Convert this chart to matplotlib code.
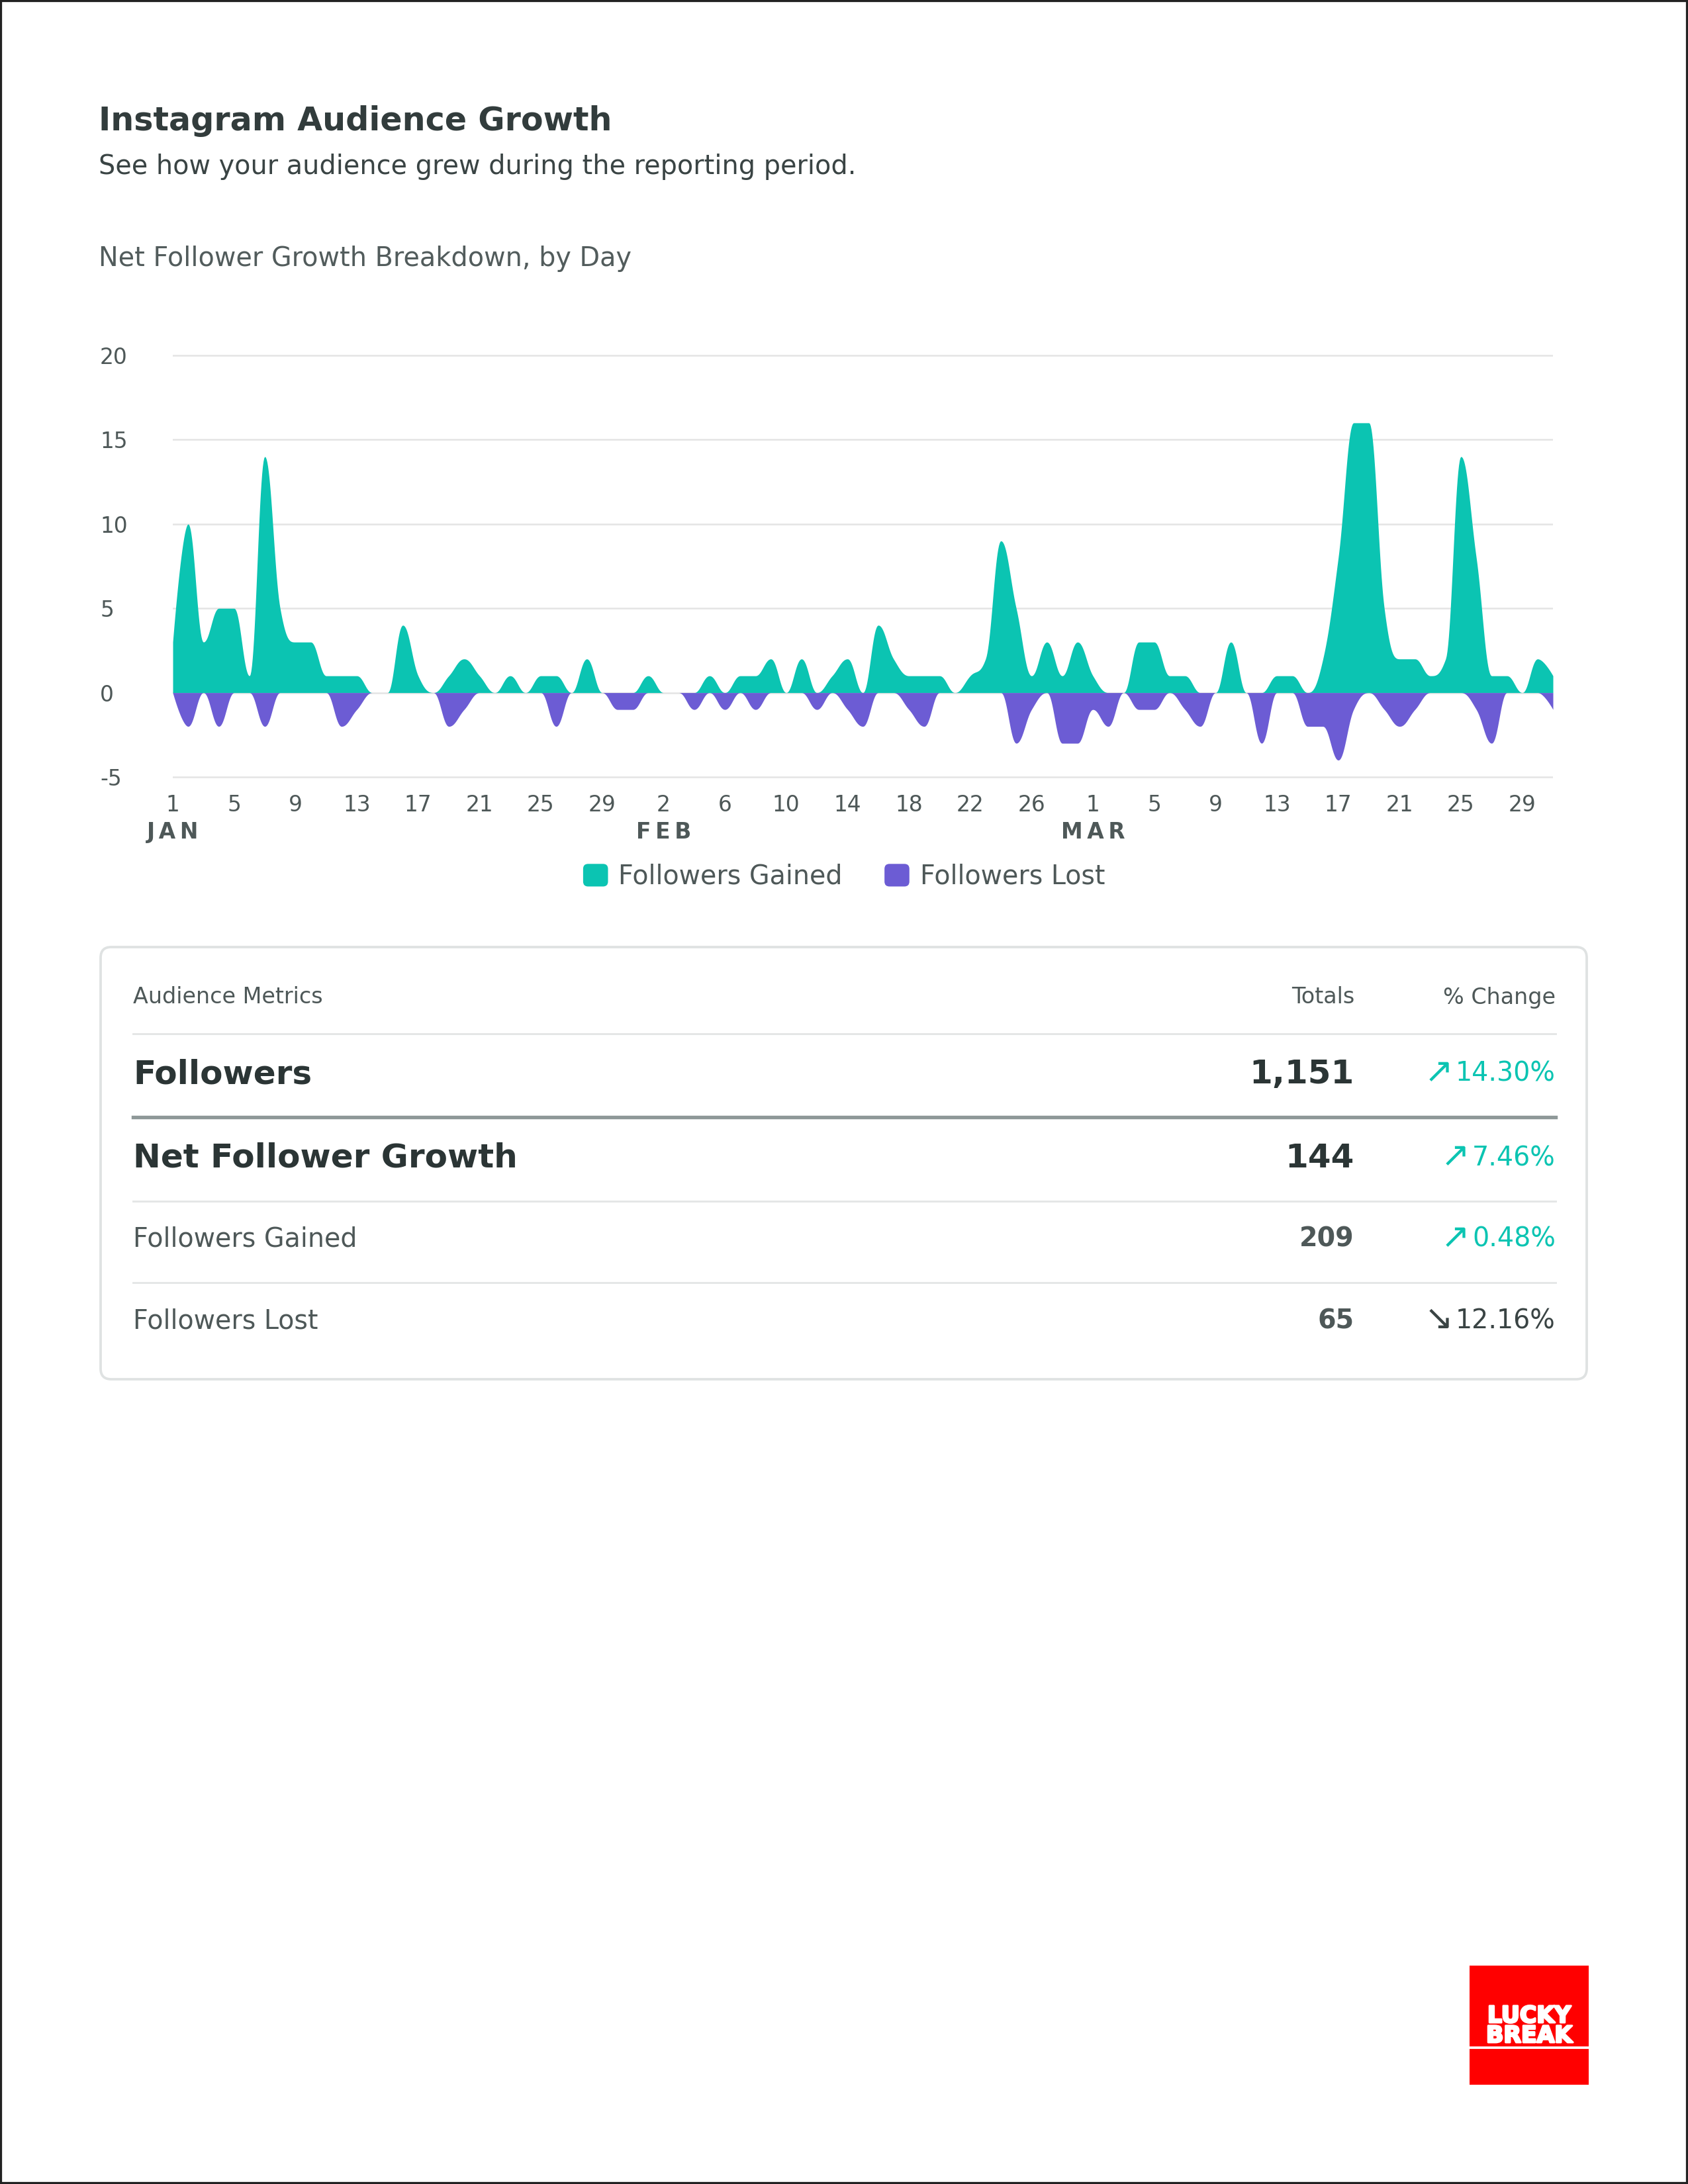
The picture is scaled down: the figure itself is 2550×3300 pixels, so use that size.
import numpy as np
import pandas as pd
import matplotlib
matplotlib.use('Agg')
from matplotlib import pyplot as plt
from matplotlib import patheffects
from matplotlib.patches import FancyBboxPatch, Rectangle, Patch
from matplotlib.legend_handler import HandlerPatch

plt.rcParams['font.family'] = ['DejaVu Sans']
plt.rcParams['axes.unicode_minus'] = False

# ---- data ----
dates = pd.date_range('2024-01-01', '2024-03-31', freq='D')

gained_jan = [3, 10, 3, 5, 5, 1, 14, 5, 3, 3, 1, 1, 1, 0, 0, 4, 1, 0, 1, 2,
              1, 0, 1, 0, 1, 1, 0, 2, 0, 0, 0]
gained_feb = [1, 0, 0, 0, 1, 0, 1, 1, 2, 0, 2, 0, 1, 2, 0, 4, 2, 1, 1, 1,
              0, 1, 2, 9, 5, 1, 3, 1, 3]
gained_mar = [1, 0, 0, 3, 3, 1, 1, 0, 0, 3, 0, 0, 1, 1, 0, 2, 8, 16, 16, 5,
              2, 2, 1, 2, 14, 8, 1, 1, 0, 2, 1]

lost_jan = [0, -2, 0, -2, 0, 0, -2, 0, 0, 0, 0, -2, -1, 0, 0, 0, 0, 0, -2, -1,
            0, 0, 0, 0, 0, -2, 0, 0, 0, -1, -1]
lost_feb = [0, 0, 0, -1, 0, -1, 0, -1, 0, 0, 0, -1, 0, -1, -2, 0, 0, -1, -2, 0,
            0, 0, 0, 0, -3, -1, 0, -3, -3]
lost_mar = [-1, -2, 0, -1, -1, 0, -1, -2, 0, 0, 0, -3, 0, 0, -2, -2, -4, -1, 0, -1,
            -2, -1, 0, 0, 0, -1, -3, 0, 0, 0, -1]

gained = gained_jan + gained_feb + gained_mar
lost = lost_jan + lost_feb + lost_mar

y_ticks = [-5, 0, 5, 10, 15, 20]
tick_every = 4
series_names = ['Followers Gained', 'Followers Lost']

metric_names = ['Followers', 'Net Follower Growth', 'Followers Gained', 'Followers Lost']
metric_totals = ['1,151', '144', '209', '65']
metric_changes = ['14.30%', '7.46%', '0.48%', '12.16%']
metric_up = [True, True, True, False]

TEAL = '#0bc4b2'
PURPLE = '#6c5cd4'
DARK = '#2b3535'
MID = '#4e5858'


def spline(xv, yv, smoothing=1.5, steps=24):
    # highcharts style spline: bezier with control points kept inside the segment
    xv = np.asarray(xv, float)
    yv = np.asarray(yv, float)
    n = len(xv)
    lc = np.column_stack([xv, yv]).copy()
    rc = lc.copy()
    den = smoothing + 1
    for i in range(1, n - 1):
        x, y = xv[i], yv[i]
        px, py, nx, ny = xv[i - 1], yv[i - 1], xv[i + 1], yv[i + 1]
        lx, ly = (smoothing * x + px) / den, (smoothing * y + py) / den
        rx, ry = (smoothing * x + nx) / den, (smoothing * y + ny) / den
        corr = (ry - ly) * (rx - x) / (rx - lx) + y - ry
        ly += corr
        ry += corr
        if ly > py and ly > y:
            ly = max(py, y); ry = 2 * y - ly
        elif ly < py and ly < y:
            ly = min(py, y); ry = 2 * y - ly
        if ry > ny and ry > y:
            ry = max(ny, y); ly = 2 * y - ry
        elif ry < ny and ry < y:
            ry = min(ny, y); ly = 2 * y - ry
        lc[i] = (lx, ly)
        rc[i] = (rx, ry)
    t = np.linspace(0, 1, steps)[:, None]
    pts = []
    for i in range(1, n):
        p0 = np.array([xv[i - 1], yv[i - 1]])
        p3 = np.array([xv[i], yv[i]])
        p1, p2 = rc[i - 1], lc[i]
        seg = ((1 - t) ** 3) * p0 + 3 * ((1 - t) ** 2) * t * p1 + 3 * (1 - t) * t ** 2 * p2 + t ** 3 * p3
        pts.append(seg if i == 1 else seg[1:])
    pts = np.vstack(pts)
    return pts[:, 0], pts[:, 1]


class RoundHandler(HandlerPatch):
    def create_artists(self, legend, orig_handle, xdescent, ydescent, width, height, fontsize, trans):
        p = FancyBboxPatch((-xdescent, -ydescent), width, height,
                           boxstyle='round,pad=0,rounding_size=%.2f' % (height * 0.22),
                           fc=orig_handle.get_facecolor(), ec='none', transform=trans)
        return [p]


fig = plt.figure(figsize=(8.5, 11), dpi=300)

# page layer in pixel coordinates
bg = fig.add_axes([0, 0, 1, 1], zorder=0)
bg.set_xlim(0, 2550)
bg.set_ylim(3300, 0)
bg.axis('off')
bg.add_patch(Rectangle((0, 0), 2550, 3300, fill=False, ec='#222222', lw=1.5))

bg.text(149, 197, 'Instagram Audience Growth', fontsize=11.8, fontweight='bold',
        color='#323c3c', va='baseline')
bg.text(149, 263, 'See how your audience grew during the reporting period.',
        fontsize=9.55, color='#3a4444', va='baseline')
bg.text(149, 402, 'Net Follower Growth Breakdown, by Day', fontsize=9.55,
        color='#525c5c', va='baseline')

# ---- chart ----
ax = fig.add_axes([261 / 2550, 1 - 1180.4 / 3300, 2085 / 2550, 649.8 / 3300], zorder=2)
ax.patch.set_alpha(0)
x = np.arange(len(dates))
gx, gy = spline(x, gained)
lx, ly = spline(x, lost)
ax.fill_between(gx, 0, gy, color=TEAL, lw=0, zorder=3)
ax.fill_between(lx, 0, ly, color=PURPLE, lw=0, zorder=3)

ax.set_xlim(0, len(dates) - 1)
ax.set_ylim(-5.25, 20.25)
ax.set_yticks(y_ticks)
ax.set_yticklabels([str(v) for v in y_ticks])
for lab in ax.get_yticklabels():
    lab.set_ha('left')
for v in y_ticks:
    ax.axhline(v, color='#e4e4e4', lw=0.6, zorder=1)
for s in ax.spines.values():
    s.set_visible(False)

tick_idx = x[::tick_every]
ax.set_xticks(tick_idx)
ax.set_xticklabels([str(dates[i].day) for i in tick_idx])
ax.tick_params(axis='y', length=0, pad=26.4, labelsize=7.9, labelcolor=MID)
ax.tick_params(axis='x', length=0, pad=4.6, labelsize=7.9, labelcolor=MID)

prev_month = None
for i in tick_idx:
    m = dates[i].month
    if m != prev_month:
        ax.text(i, -0.1194, '\u2009'.join(dates[i].strftime('%b').upper()),
                transform=ax.get_xaxis_transform(), ha='center', va='center',
                fontsize=7.9, fontweight='bold', color=MID)
        prev_month = m

handles = [Patch(fc=TEAL), Patch(fc=PURPLE)]
leg = fig.legend(handles, series_names, loc='center', bbox_to_anchor=(0.5, 1 - 1325 / 3300),
                 ncol=2, frameon=False, fontsize=9.5, handlelength=0.95, handleheight=0.95,
                 handletextpad=0.4, columnspacing=1.6, handler_map={Patch: RoundHandler()})
for t in leg.get_texts():
    t.set_color(MID)

# ---- metrics table ----
bg.add_patch(FancyBboxPatch((152, 1431), 2245, 653, boxstyle='round,pad=0,rounding_size=16',
                            fc='white', ec='#dfe2e2', lw=0.9))
left, col_tot, col_chg = 201, 2046, 2350
bg.text(left, 1507, 'Audience Metrics', fontsize=8, color=MID, va='center')
bg.text(col_tot, 1507, 'Totals', fontsize=8, color=MID, va='center', ha='right')
bg.text(col_chg, 1507, '% Change', fontsize=8, color=MID, va='center', ha='right')

bg.plot([left, col_chg], [1562, 1562], color='#e4e6e6', lw=0.7)
bg.plot([left, col_chg], [1688, 1688], color='#8e9898', lw=1.3)
bg.plot([left, col_chg], [1815, 1815], color='#e4e6e6', lw=0.7)
bg.plot([left, col_chg], [1938, 1938], color='#e4e6e6', lw=0.7)

renderer = fig.canvas.get_renderer()
row_y = [1623, 1750, 1873, 1996]
for k, name in enumerate(metric_names):
    big = k < 2
    bg.text(left, row_y[k], name, fontsize=12 if big else 9.5,
            fontweight='bold' if big else 'normal', color=DARK if big else MID, va='center')
    bg.text(col_tot, row_y[k], metric_totals[k], fontsize=12 if big else 9.5,
            fontweight='bold', color=DARK if big else MID, va='center', ha='right')
    col = TEAL if metric_up[k] else '#3a4444'
    num = bg.text(col_chg, row_y[k], metric_changes[k], fontsize=9.5,
                  color=col, va='center', ha='right')
    x0 = num.get_window_extent(renderer).x0
    arrow = '\u2197' if metric_up[k] else '\u2198'
    bg.text(x0 - 4, row_y[k] - 2, arrow, fontsize=12.5, color=col, va='center', ha='right')

# ---- logo ----
bg.add_patch(Rectangle((2220, 2970), 180, 180, fc='#ff0000', ec='none'))
stroke = [patheffects.withStroke(linewidth=0.7, foreground='white')]
bg.text(2310, 3046, 'LUCKY', fontsize=8.3, fontweight='bold', color='white',
        ha='center', va='center', path_effects=stroke)
bg.text(2310, 3076, 'BREAK', fontsize=8.3, fontweight='bold', color='white',
        ha='center', va='center', path_effects=stroke)
bg.plot([2220, 2400], [3094, 3094], color='white', lw=0.9, solid_capstyle='butt')

fig.savefig('out.png', dpi=300)
